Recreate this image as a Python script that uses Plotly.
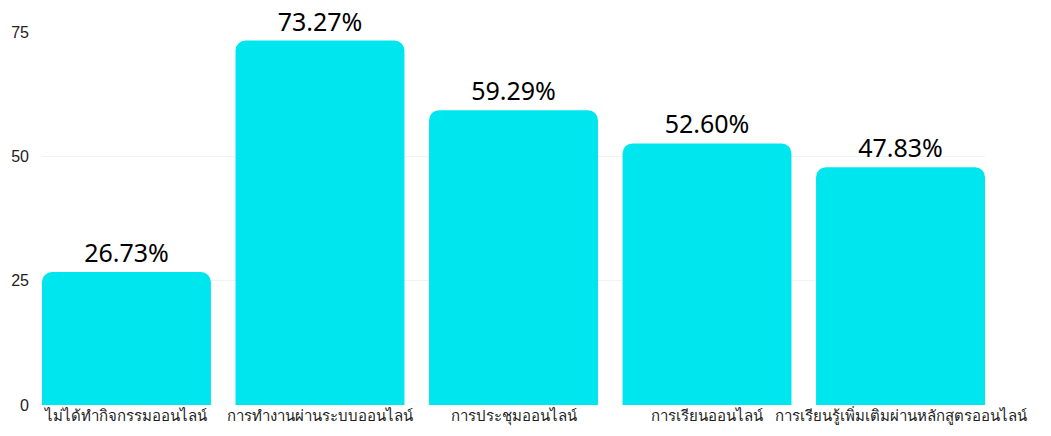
import plotly.graph_objects as go

categories = ["ไม่ได้ทำกิจกรรมออนไลน์", "การทำงานผ่านระบบออนไลน์", "การประชุมออนไลน์",
              "การเรียนออนไลน์", "การเรียนรู้เพิ่มเติมผ่านหลักสูตรออนไลน์"]
values = [26.73, 73.27, 59.29, 52.60, 47.83]
y_ticks = [0, 25, 50, 75]

fig = go.Figure(go.Bar(
    x=list(range(len(categories))), y=values,
    marker=dict(color="#00E6EE", cornerradius=10, line=dict(width=0)),
    texttemplate="%{y:.2f}%", textposition="outside",
    textfont=dict(size=25, color="#000000", family="Noto Sans, sans-serif"),
    cliponaxis=False,
))
fig.update_layout(
    width=1043, height=428,
    margin=dict(l=34, r=66, t=24, b=31),
    plot_bgcolor="white", paper_bgcolor="white",
    bargap=0.127, showlegend=False,
    font=dict(family="Noto Sans, sans-serif", color="#222222"),
)
fig.update_xaxes(
    tickmode="array", tickvals=list(range(len(categories))), ticktext=categories,
    range=[-0.4365, 4.4365], showgrid=False, zeroline=False, showline=False,
    tickfont=dict(size=15, color="#222222"), ticks="", automargin=False,
    ticklabelstandoff=0, tickangle=0,
)
fig.update_yaxes(
    range=[0, 75], tickvals=y_ticks, showgrid=True, gridcolor="#F2F2F2",
    zeroline=False, tickfont=dict(size=16, color="#222222", family="Liberation Sans, Arial, sans-serif"),
    ticks="", automargin=False, ticklabelstandoff=12,
)
fig.write_html("out.html")
